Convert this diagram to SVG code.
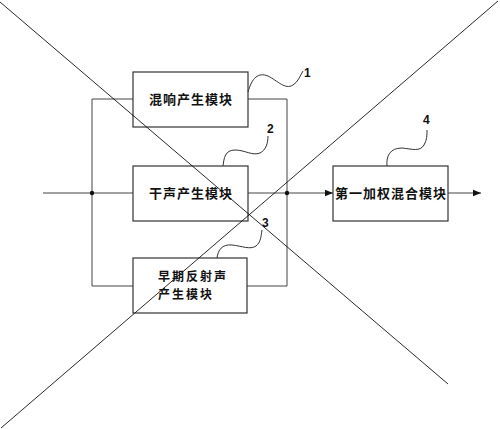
<svg xmlns="http://www.w3.org/2000/svg" width="500" height="429" viewBox="0 0 500 429">
<defs>
<style>
.box{fill:#fff;stroke:#333;stroke-width:1.2}
.ln{fill:none;stroke:#444;stroke-width:1}
.lead{fill:none;stroke:#333;stroke-width:1}
.x{fill:none;stroke:#111;stroke-width:0.9}
.t{font-family:"Noto Sans CJK SC","Noto Sans",sans-serif;font-size:13px;font-weight:bold;fill:#111;letter-spacing:1px}
.t3{font-family:"Noto Sans CJK SC","Noto Sans",sans-serif;font-size:12px;font-weight:bold;fill:#111;letter-spacing:2px}
.n{font-family:"Liberation Sans",Arial,sans-serif;font-size:12px;font-weight:bold;fill:#111}
</style>
<marker id="arr" viewBox="0 0 10 10" refX="10" refY="5" markerWidth="8" markerHeight="8" markerUnits="userSpaceOnUse" orient="auto">
<path d="M0,1 L10,5 L0,9 Z" fill="#111"/>
</marker>
</defs>
<rect width="500" height="429" fill="#fff"/>
<g id="connectors">
<polyline class="ln" points="133,99 92,99 92,286 133,286"/>
<line class="ln" x1="43" y1="193" x2="133" y2="193"/>
<polyline class="ln" points="248,99 287,99 287,286 247,286"/>
<line class="ln" x1="248" y1="193" x2="333" y2="193" marker-end="url(#arr)"/>
<line class="ln" x1="448" y1="193" x2="481" y2="193" marker-end="url(#arr)"/>
<circle cx="92" cy="193" r="2.2" fill="#111"/>
<circle cx="287" cy="193" r="2.2" fill="#111"/>
</g>
<g id="node1">
<rect class="box" x="133" y="72" width="115" height="55"/>
<text class="t" x="191" y="104" text-anchor="middle">混响产生模块</text>
<path class="lead" d="M248,92 C252,78 258,72 268,76 C278,81 285,90 293,85 C298,82 300,76 303,71"/>
<text class="n" x="304" y="77">1</text>
</g>
<g id="node2">
<rect class="box" x="133" y="166" width="115" height="55"/>
<text class="t" x="191" y="198" text-anchor="middle">干声产生模块</text>
<path class="lead" d="M223,166 C224,158 225,150 235,150 C245,150 252,156 260,153 C266,150 268,143 268,136"/>
<text class="n" x="267" y="133">2</text>
</g>
<g id="node3">
<rect class="box" x="133" y="258" width="114" height="55"/>
<text class="t3" x="158" y="281">早期反射声</text>
<text class="t3" x="158" y="299">产生模块</text>
<path class="lead" d="M217,258 C218,250 222,244 232,245 C242,246 250,250 256,246 C261,242 261,236 262,230"/>
<text class="n" x="262" y="227">3</text>
</g>
<g id="node4">
<rect class="box" x="333" y="166" width="115" height="55"/>
<text class="t" x="391" y="198" text-anchor="middle">第一加权混合模块</text>
<path class="lead" d="M387,166 C386,156 390,148 402,148 C412,149 420,152 424,145 C427,140 427,135 427,130"/>
<text class="n" x="423" y="124">4</text>
</g>
<g id="cross">
<line class="x" x1="0" y1="2" x2="448" y2="384"/>
<line class="x" x1="498" y1="1" x2="1" y2="428"/>
</g>
</svg>
